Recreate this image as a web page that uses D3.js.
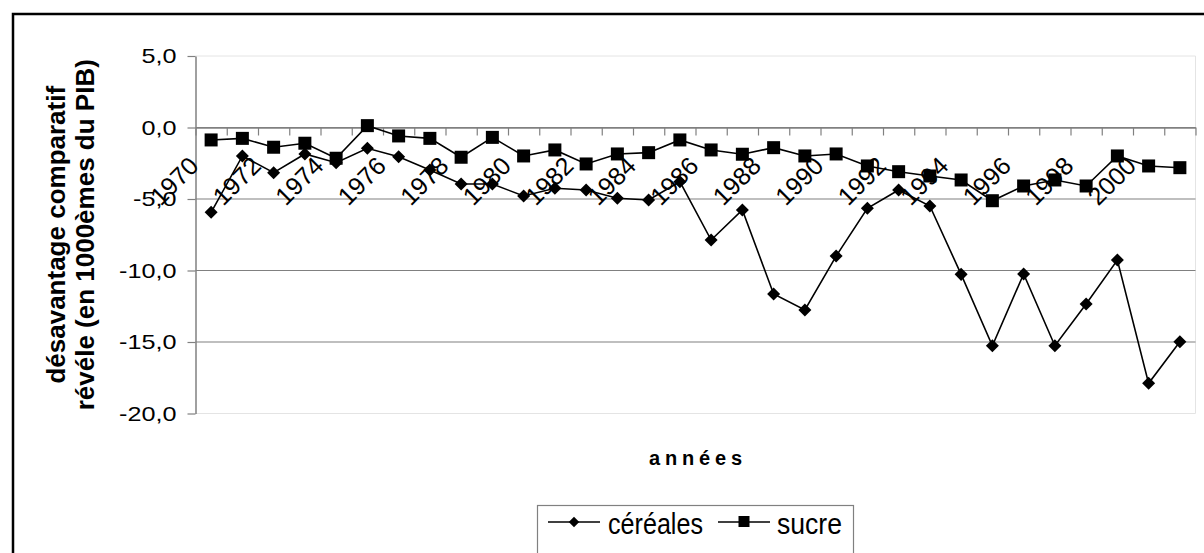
<!DOCTYPE html>
<html>
<head>
<meta charset="utf-8">
<script src="https://cdn.jsdelivr.net/npm/d3@7"></script>
<style>
  body { margin: 0; background: #fff; }
  svg { display: block; font-family: "Liberation Sans", Arial, sans-serif; }
</style>
</head>
<body>
<div id="chart"></div>
<script>
// Data
const years = d3.range(1970, 2002);
const cereales = [-5.93, -1.99, -3.16, -1.85, -2.46, -1.45, -2.04, -2.97, -3.95, -3.95,
  -4.79, -4.25, -4.37, -4.95, -5.07, -3.79, -7.87, -5.77, -11.64, -12.76,
  -8.99, -5.65, -4.37, -5.49, -10.27, -15.26, -10.24, -15.26, -12.34, -9.27,
  -17.89, -14.98];
const sucre = [-0.87, -0.76, -1.38, -1.10, -2.15, 0.13, -0.59, -0.76, -2.08, -0.69,
  -1.99, -1.57, -2.55, -1.85, -1.76, -0.87, -1.57, -1.87, -1.41, -1.99,
  -1.85, -2.69, -3.09, -3.39, -3.67, -5.12, -4.09, -3.67, -4.09, -1.99,
  -2.69, -2.81];
const yTicks = [5, 0, -5, -10, -15, -20];
const labelYears = years.filter(d => d % 2 === 0);

// Dimensions
const width = 1204;
const height = 553;
const plotLeft = 195.5, plotRight = 1195.5, plotTop = 56, plotBottom = 413.5;

const svg = d3.select("#chart")
  .append("svg")
  .attr("width", width)
  .attr("height", height);

// outer chart border
svg.append("rect")
  .attr("x", 13).attr("y", 14)
  .attr("width", 1200).attr("height", 560)
  .attr("fill", "none")
  .attr("stroke", "#000")
  .attr("stroke-width", 2.5);

// Scales
const x = d3.scaleBand().domain(years).range([plotLeft, plotRight]).padding(0);
const xEdge = d3.scaleLinear().domain([0, years.length]).range([plotLeft, plotRight]);
const y = d3.scaleLinear().domain([-20, 5]).range([plotBottom, plotTop]);
const cx = d => x(d) + x.bandwidth() / 2;

// plot area border (light)
svg.append("path")
  .attr("d", `M${plotLeft},${plotTop}H${plotRight}V${plotBottom}H${plotLeft}`)
  .attr("fill", "none")
  .attr("stroke", "#e4e4e4")
  .attr("stroke-width", 1);

// gridlines
svg.append("g")
  .selectAll("line")
  .data(yTicks.filter(d => d > -20 && d < 5))
  .join("line")
  .attr("x1", plotLeft).attr("x2", plotRight)
  .attr("y1", d => y(d)).attr("y2", d => y(d))
  .attr("stroke", "#808080")
  .attr("stroke-width", 1.2);

// Y axis
const fmt = d => (d < 0 ? "-" : "") + Math.abs(d).toFixed(1).replace(".", ",");
const yAxis = svg.append("g")
  .attr("transform", `translate(${plotLeft},0)`)
  .call(d3.axisLeft(y).tickValues(yTicks).tickSize(8).tickSizeOuter(0).tickPadding(11).tickFormat(fmt));
yAxis.select(".domain").attr("stroke", "#808080").attr("stroke-width", 1.5);
yAxis.selectAll(".tick line").attr("stroke", "#808080").attr("stroke-width", 1.2);
yAxis.selectAll(".tick text")
  .attr("class", "stretch")
  .attr("fill", "#000")
  .style("font-size", "21px")
  .style("font-family", "'Liberation Sans', Arial, sans-serif");

// X axis (category axis crossing at 0, ticks between categories)
const xAxis = svg.append("g")
  .attr("transform", `translate(0,${y(0)})`)
  .call(d3.axisBottom(xEdge).tickValues(d3.range(0, years.length + 1)).tickSize(8).tickSizeOuter(0).tickFormat(""));
xAxis.select(".domain").attr("stroke", "#808080").attr("stroke-width", 1.5);
xAxis.selectAll(".tick line").attr("stroke", "#808080").attr("stroke-width", 1.2);

// rotated year labels
svg.append("g")
  .selectAll("text")
  .data(labelYears)
  .join("text")
  .attr("transform", d => `translate(${cx(d) - 11},${y(0) + 40}) rotate(-45)`)
  .attr("text-anchor", "end")
  .style("font-size", "25px")
  .text(d => d);

// Lines
const line = d3.line().x(d => cx(d[0])).y(d => y(d[1]));
const seriesCer = years.map((yr, i) => [yr, cereales[i]]);
const seriesSuc = years.map((yr, i) => [yr, sucre[i]]);

svg.append("path")
  .datum(seriesCer)
  .attr("d", line)
  .attr("fill", "none")
  .attr("stroke", "#000")
  .attr("stroke-width", 1.6);

svg.append("g")
  .selectAll("path")
  .data(seriesCer)
  .join("path")
  .attr("d", d3.symbol(d3.symbolSquare, 85))
  .attr("transform", d => `translate(${cx(d[0])},${y(d[1])}) rotate(45)`)
  .attr("fill", "#000");

svg.append("path")
  .datum(seriesSuc)
  .attr("d", line)
  .attr("fill", "none")
  .attr("stroke", "#000")
  .attr("stroke-width", 1.6);

svg.append("g")
  .selectAll("rect")
  .data(seriesSuc)
  .join("rect")
  .attr("x", d => cx(d[0]) - 6.5)
  .attr("y", d => y(d[1]) - 6.5)
  .attr("width", 13)
  .attr("height", 13)
  .attr("fill", "#000");

// Y axis title
const yTitle = svg.append("text")
  .attr("transform", `translate(0,${(plotTop + plotBottom) / 2}) rotate(-90)`)
  .attr("text-anchor", "middle")
  .style("font-size", "26px")
  .style("font-weight", "bold");
yTitle.append("tspan").attr("x", 0).attr("y", 65).text("désavantage comparatif");
yTitle.append("tspan").attr("x", 0).attr("y", 94).text("révéle (en 1000èmes du PIB)");

// X axis title
svg.append("text")
  .attr("x", (plotLeft + plotRight) / 2)
  .attr("y", 465)
  .attr("text-anchor", "middle")
  .attr("textLength", 93)
  .attr("lengthAdjust", "spacing")
  .style("font-size", "20px")
  .style("font-weight", "bold")
  .text("années");

// Legend
const legend = svg.append("g");
legend.append("rect")
  .attr("x", 537.5).attr("y", 505.5)
  .attr("width", 316).attr("height", 80)
  .attr("fill", "#fff")
  .attr("stroke", "#808080")
  .attr("stroke-width", 1.2);

legend.append("line")
  .attr("x1", 548).attr("x2", 600).attr("y1", 522).attr("y2", 522)
  .attr("stroke", "#000").attr("stroke-width", 1.6);
legend.append("path")
  .attr("d", d3.symbol(d3.symbolSquare, 55))
  .attr("transform", "translate(574,522) rotate(45)");
legend.append("text")
  .attr("x", 608).attr("y", 534)
  .attr("textLength", 95)
  .attr("lengthAdjust", "spacingAndGlyphs")
  .style("font-size", "29px")
  .text("céréales");

legend.append("line")
  .attr("x1", 718).attr("x2", 770).attr("y1", 522).attr("y2", 522)
  .attr("stroke", "#000").attr("stroke-width", 1.6);
legend.append("rect")
  .attr("x", 738.5).attr("y", 516).attr("width", 11).attr("height", 11);
legend.append("text")
  .attr("x", 777).attr("y", 534)
  .attr("textLength", 65)
  .attr("lengthAdjust", "spacingAndGlyphs")
  .style("font-size", "29px")
  .text("sucre");

// widen tick label glyphs like the original rendering
svg.selectAll(".stretch").each(function() {
  const w = this.getComputedTextLength();
  this.setAttribute("textLength", w * 1.2);
  this.setAttribute("lengthAdjust", "spacingAndGlyphs");
});
</script>
</body>
</html>
